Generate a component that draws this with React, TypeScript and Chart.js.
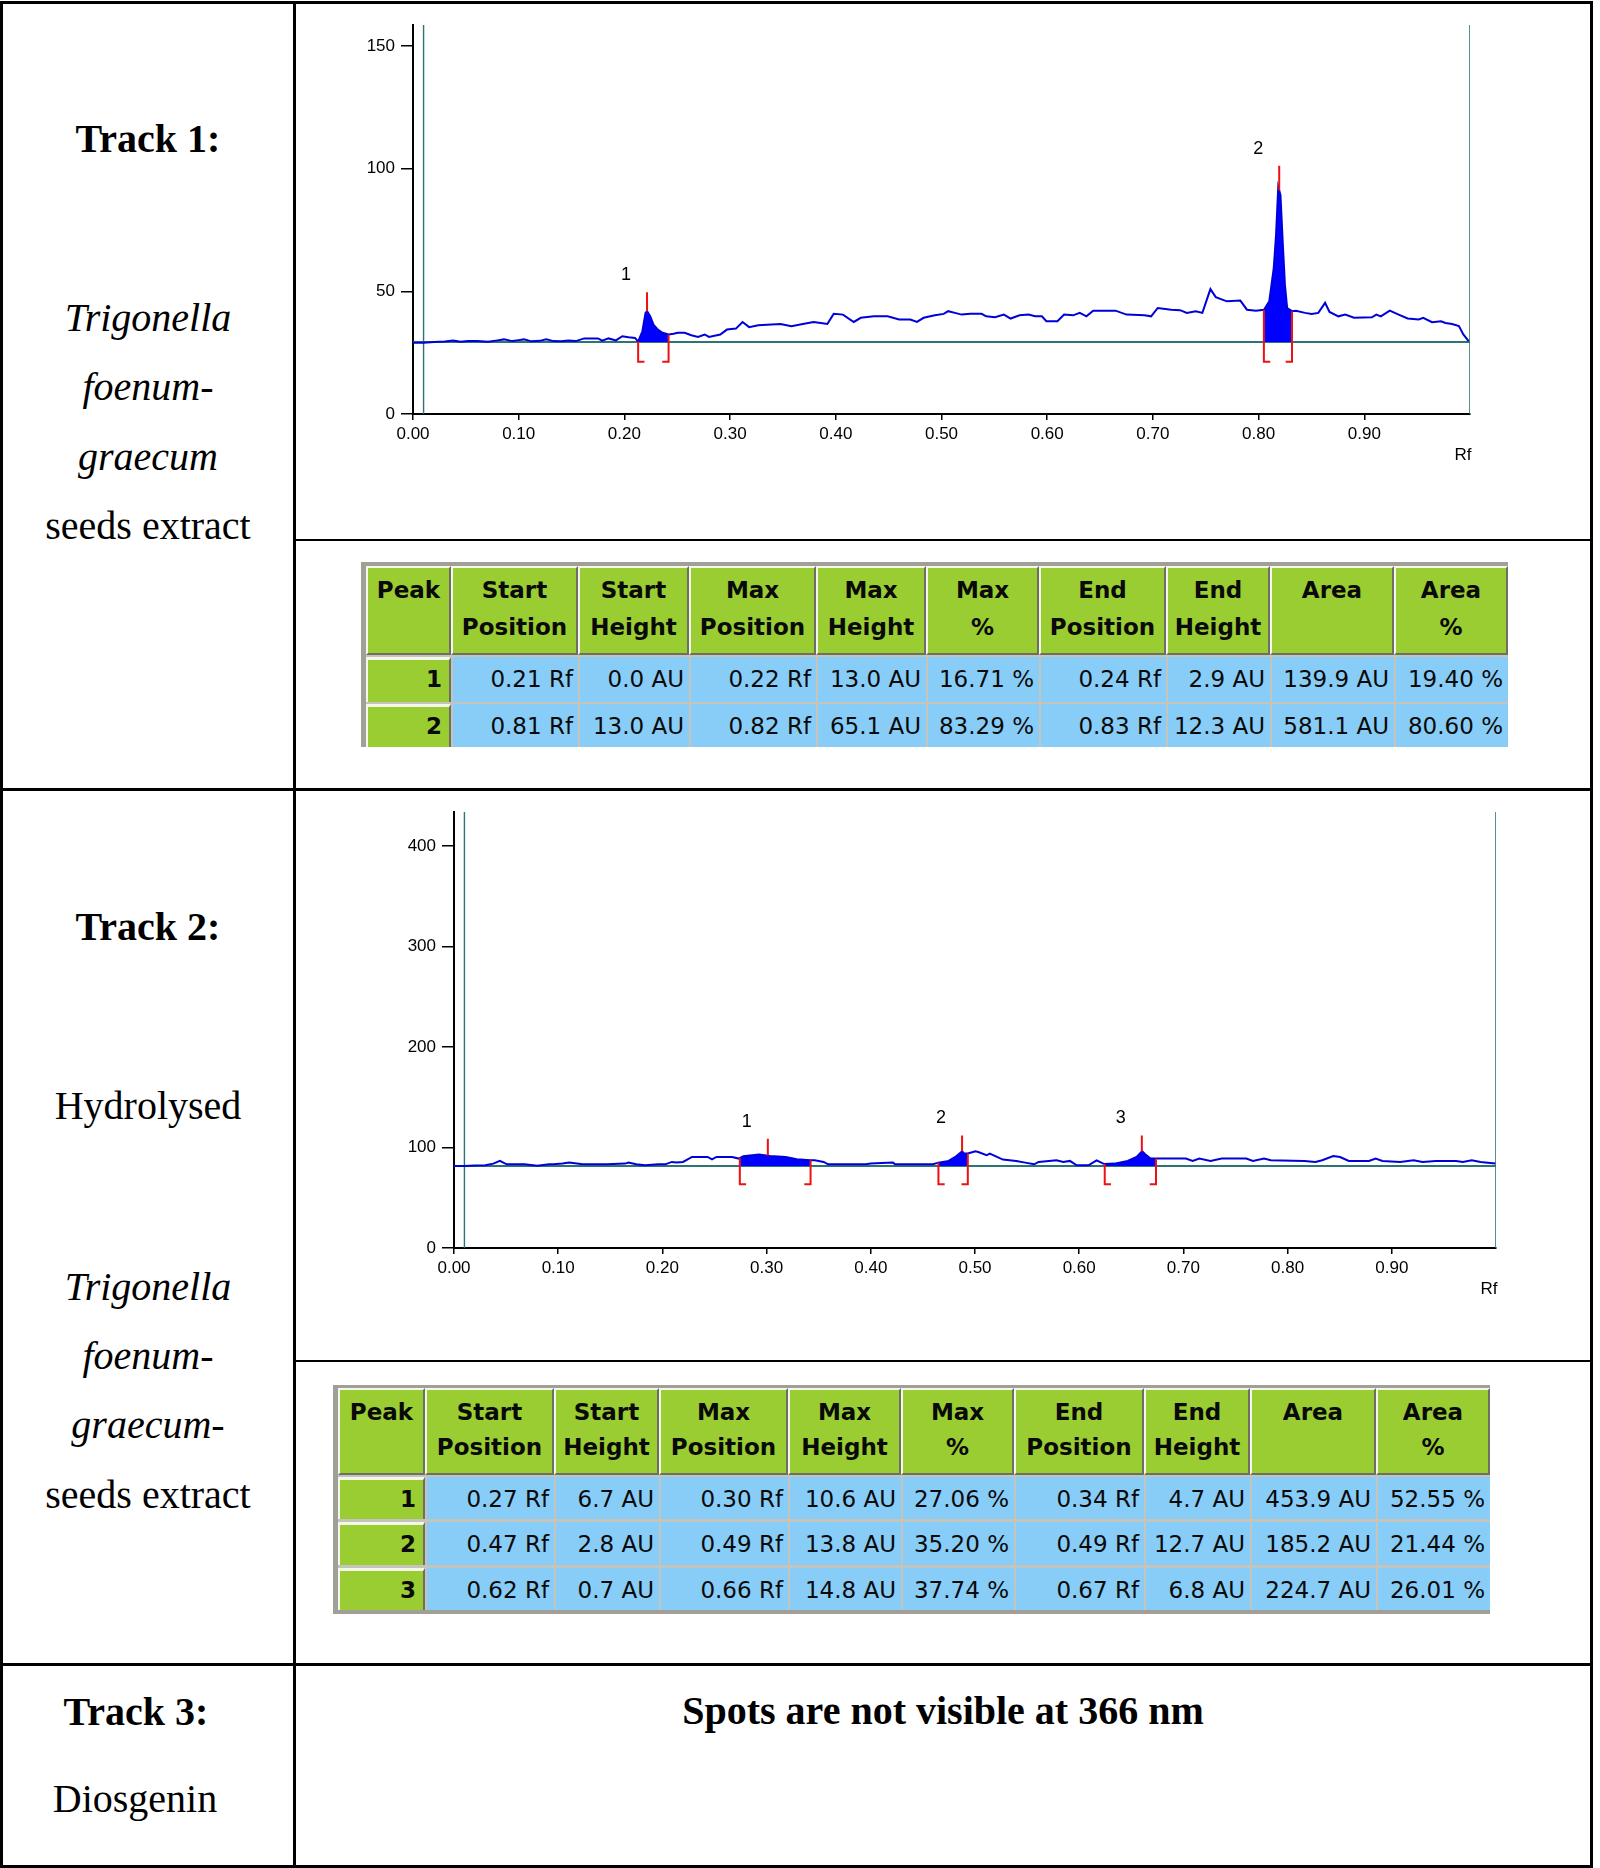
import React, { useEffect, useRef } from "react";
import { Chart, registerables } from "chart.js";

Chart.register(...registerables);

// ---------------- Track 1 densitogram (Rf vs AU) ----------------
const TRACK1_RF = [
  0.000, 0.010, 0.020, 0.030, 0.038, 0.045, 0.052, 0.061, 0.071, 0.080,
  0.086, 0.094, 0.100, 0.105, 0.112, 0.120, 0.126, 0.133, 0.140, 0.147,
  0.154, 0.162, 0.175, 0.179, 0.185, 0.192, 0.198, 0.204, 0.210, 0.213,
  0.217, 0.220, 0.2215, 0.2245, 0.2275, 0.2316, 0.236, 0.2418, 0.2465, 0.2506,
  0.257, 0.2633, 0.2696, 0.276, 0.280, 0.2907, 0.297, 0.3055, 0.3118, 0.318,
  0.3266, 0.3477, 0.358, 0.3688, 0.379, 0.3857, 0.392, 0.398, 0.4068, 0.417,
  0.4236, 0.436, 0.449, 0.4599, 0.4705, 0.4768, 0.4831, 0.4937, 0.5021, 0.5063,
  0.5127, 0.519, 0.5274, 0.538, 0.5422, 0.5506, 0.559, 0.5654, 0.5738, 0.5823,
  0.5886, 0.595, 0.5992, 0.6097, 0.616, 0.6245, 0.6308, 0.6371, 0.6435, 0.6646,
  0.6751, 0.692, 0.6983, 0.7046, 0.7173, 0.7257, 0.7321, 0.7405, 0.7468, 0.7544,
  0.7595, 0.770, 0.7827, 0.789, 0.7975, 0.8051, 0.8101, 0.8143, 0.8165, 0.8186,
  0.8207, 0.8228, 0.8249, 0.827, 0.8316, 0.8354, 0.8439, 0.8502, 0.8565, 0.8629,
  0.8671, 0.8755, 0.8819, 0.8903, 0.9072, 0.9114, 0.9156, 0.9241, 0.9325, 0.941,
  0.9515, 0.9557, 0.9641, 0.9726, 0.9768, 0.9831, 0.9895, 0.9937, 0.9987,
];
const TRACK1_AU = [
  29.0, 29.0, 29.3, 29.5, 29.9, 29.4, 29.7, 29.7, 29.4, 30.0,
  30.4, 29.7, 30.1, 30.4, 29.6, 29.8, 30.4, 29.7, 29.6, 29.9,
  29.7, 30.8, 30.8, 29.9, 30.8, 30.0, 31.7, 31.3, 31.0, 29.5,
  33.7, 41.2, 41.9, 39.8, 36.4, 34.4, 33.1, 32.4, 32.7, 33.1,
  33.1, 32.1, 31.4, 32.4, 31.4, 32.4, 34.4, 34.8, 37.5, 35.4,
  36.2, 36.7, 35.8, 36.7, 37.5, 37.1, 36.7, 40.8, 40.5, 37.5,
  39.2, 39.8, 39.8, 38.5, 38.5, 37.5, 39.2, 40.2, 40.8, 41.9,
  41.2, 40.5, 40.8, 40.8, 39.8, 39.4, 40.5, 38.9, 40.2, 40.5,
  39.8, 39.8, 37.8, 37.8, 40.5, 40.2, 41.2, 39.8, 42.1, 42.1,
  40.5, 40.2, 39.8, 43.2, 42.5, 42.3, 41.2, 41.9, 41.2, 50.9,
  47.6, 45.9, 46.2, 42.5, 42.1, 42.5, 45.9, 59.3, 72.9, 92.5,
  89.2, 70.2, 52.6, 43.2, 41.9, 42.1, 41.2, 40.8, 41.2, 45.3,
  41.6, 39.8, 40.5, 39.2, 39.4, 40.5, 39.8, 42.1, 40.5, 38.9,
  38.5, 39.2, 37.4, 37.8, 37.1, 36.7, 35.8, 32.4, 29.7,
];
const TRACK1_BASELINE = 29.3;
const TRACK1_PEAK_START = [0.213, 0.805];
const TRACK1_PEAK_MAX = [0.2214, 0.8195];
const TRACK1_PEAK_END = [0.2418, 0.8316];
const TRACK1_MARK_TOP = [49.6, 101.2];
const TRACK1_BRACKET_LOW = 21.3;
const TRACK1_Y_TICKS = [0, 50, 100, 150];
const TRACK1_Y_MAX = 158.5;

// ---------------- Track 2 densitogram ----------------
const TRACK2_RF = [
  0.000, 0.010, 0.020, 0.030, 0.0377, 0.0441, 0.0506, 0.0613, 0.0677, 0.080,
  0.0913, 0.0955, 0.1041, 0.1105, 0.1234, 0.147, 0.1641, 0.1675, 0.1748, 0.1834,
  0.1962, 0.2027, 0.2091, 0.2134, 0.2198, 0.2284, 0.2434, 0.2476, 0.2519, 0.2669,
  0.2734, 0.2776, 0.2926, 0.3033, 0.3183, 0.329, 0.3419, 0.3462, 0.3548, 0.359,
  0.3676, 0.3826, 0.3955, 0.3997, 0.4212, 0.4233, 0.4597, 0.4649, 0.4747, 0.4811,
  0.4876, 0.4897, 0.4931, 0.5004, 0.5031, 0.5111, 0.5142, 0.5268, 0.5396, 0.5482,
  0.5568, 0.5611, 0.5782, 0.5847, 0.5911, 0.5976, 0.6089, 0.6167, 0.6232, 0.6245,
  0.6339, 0.6465, 0.6551, 0.6604, 0.6633, 0.6685, 0.6737, 0.7024, 0.7089, 0.7153,
  0.726, 0.7367, 0.7603, 0.7667, 0.7774, 0.7839, 0.816, 0.8267, 0.8332, 0.8438,
  0.8503, 0.8588, 0.8781, 0.8845, 0.891, 0.9081, 0.9209, 0.9295, 0.9423, 0.9616,
  0.9682, 0.9767, 0.9852, 0.9994,
];
const TRACK2_AU = [
  81.7, 81.7, 82.0, 82.3, 84.0, 86.7, 83.3, 83.3, 83.3, 82.0,
  83.3, 83.3, 84.0, 85.0, 83.3, 83.3, 84.0, 85.0, 83.3, 82.3,
  83.3, 83.3, 85.7, 85.0, 85.7, 90.6, 90.6, 88.3, 90.6, 90.6,
  89.0, 91.3, 93.0, 91.6, 90.6, 88.3, 87.3, 87.3, 85.7, 83.3,
  83.3, 83.3, 83.3, 84.0, 85.0, 83.3, 83.3, 85.0, 86.7, 90.6,
  96.3, 94.0, 94.0, 96.3, 95.6, 92.3, 94.0, 88.0, 86.7, 85.0,
  83.3, 85.7, 87.3, 85.7, 86.7, 82.3, 82.3, 87.3, 84.0, 83.5,
  84.0, 86.7, 90.6, 96.3, 93.3, 89.0, 89.0, 89.0, 86.7, 89.0,
  86.7, 89.0, 89.0, 86.7, 89.0, 87.3, 86.7, 85.7, 87.3, 91.6,
  90.6, 86.7, 86.7, 89.0, 86.7, 85.7, 87.3, 85.7, 86.7, 86.7,
  85.7, 87.3, 85.7, 84.0,
];
const TRACK2_BASELINE = 81.7;
const TRACK2_PEAK_START = [0.2743, 0.4649, 0.6245];
const TRACK2_PEAK_MAX = [0.3012, 0.4876, 0.6601];
const TRACK2_PEAK_END = [0.3422, 0.4931, 0.6737];
const TRACK2_MARK_TOP = [108.8, 112, 112];
const TRACK2_BRACKET_LOW = 63.4;
const TRACK2_Y_TICKS = [0, 100, 200, 300, 400];
const TRACK2_Y_MAX = 434;

const RF_TICKS = [0, 0.1, 0.2, 0.3, 0.4, 0.5, 0.6, 0.7, 0.8, 0.9];
const RF_MIN = 0;
const RF_MAX = 1;
const START_LINE_RF = 0.01;

// ---------------- Peak tables ----------------
const TABLE1_PEAK = [1, 2];
const TABLE1_START_POS = [0.21, 0.81];
const TABLE1_START_HEIGHT = [0.0, 13.0];
const TABLE1_MAX_POS = [0.22, 0.82];
const TABLE1_MAX_HEIGHT = [13.0, 65.1];
const TABLE1_MAX_PCT = [16.71, 83.29];
const TABLE1_END_POS = [0.24, 0.83];
const TABLE1_END_HEIGHT = [2.9, 12.3];
const TABLE1_AREA = [139.9, 581.1];
const TABLE1_AREA_PCT = [19.4, 80.6];

const TABLE2_PEAK = [1, 2, 3];
const TABLE2_START_POS = [0.27, 0.47, 0.62];
const TABLE2_START_HEIGHT = [6.7, 2.8, 0.7];
const TABLE2_MAX_POS = [0.3, 0.49, 0.66];
const TABLE2_MAX_HEIGHT = [10.6, 13.8, 14.8];
const TABLE2_MAX_PCT = [27.06, 35.2, 37.74];
const TABLE2_END_POS = [0.34, 0.49, 0.67];
const TABLE2_END_HEIGHT = [4.7, 12.7, 6.8];
const TABLE2_AREA = [453.9, 185.2, 224.7];
const TABLE2_AREA_PCT = [52.55, 21.44, 26.01];

// ---------------- styles ----------------
const TEAL = "#2f7474";
const CURVE = "#0000d8";
const FILL = "#0000ff";
const RED = "#ee1111";
const FOOT = 0.006;
const TICK_FONT = { family: '"Liberation Sans", Arial, sans-serif', size: 17 };

const GREEN = "#9acd32";
const BLUE = "#88cdf8";
const HI = "#f4f8ea";
const SH = "#6e6e62";
const GAP = "#c4c4bc";
const FRAME = "#a0a098";
const INK = "#0a0a0a";
const TABLE_FONT = '"DejaVu Sans", Verdana, sans-serif';
const SERIF = '"Liberation Serif", "Times New Roman", serif';

const fmtRf = (v: number) => v.toFixed(2) + " Rf";
const fmtAU = (v: number) => v.toFixed(1) + " AU";
const fmtPct = (v: number) => v.toFixed(2) + " %";

type Box = { left: number; top: number; width: number; height: number };
type Area = { left: number; right: number; top: number; bottom: number };

type DensProps = {
  box: Box;
  area: Area;
  rf: number[];
  au: number[];
  baseline: number;
  starts: number[];
  maxes: number[];
  ends: number[];
  markTops: number[];
  bracketLow: number;
  yTicks: number[];
  yMax: number;
};

function Densitogram(p: DensProps) {
  const ref = useRef<HTMLCanvasElement | null>(null);
  useEffect(() => {
    const canvas = ref.current;
    if (!canvas) return;
    const trace = p.rf.map((x, i) => ({ x, y: p.au[i] }));
    const at = (x: number) => {
      for (let i = 1; i < trace.length; i++) {
        if (trace[i].x >= x) {
          const a = trace[i - 1];
          const b = trace[i];
          const t = (x - a.x) / (b.x - a.x || 1);
          return a.y + t * (b.y - a.y);
        }
      }
      return trace[trace.length - 1].y;
    };
    const line = (data: any[], color: string, width: number, order: number, extra: any = {}) => ({
      data,
      borderColor: color,
      borderWidth: width,
      pointRadius: 0,
      pointHoverRadius: 0,
      fill: false,
      tension: 0,
      order,
      ...extra,
    });
    const ds: any[] = [];
    ds.push(line([{ x: RF_MIN, y: p.baseline }, { x: RF_MAX, y: p.baseline }], TEAL, 2, 20));
    ds.push(line([{ x: START_LINE_RF, y: 0 }, { x: START_LINE_RF, y: p.yMax }], TEAL, 1.4, 20));
    ds.push(line([{ x: RF_MAX, y: 0 }, { x: RF_MAX, y: p.yMax }], TEAL, 1.6, 20));
    p.starts.forEach((s, i) => {
      const e = p.ends[i];
      const seg = [{ x: s, y: at(s) }, ...trace.filter((q) => q.x > s && q.x < e), { x: e, y: at(e) }];
      ds.push(line(seg, "rgba(0,0,0,0)", 1, 15, { fill: { value: p.baseline }, backgroundColor: FILL }));
    });
    ds.push(line(trace, CURVE, 2, 10));
    p.maxes.forEach((m, i) => ds.push(line([{ x: m, y: p.markTops[i] }, { x: m, y: at(m) }], RED, 2, 1)));
    p.starts.forEach((s) =>
      ds.push(line([{ x: s + FOOT, y: p.bracketLow }, { x: s, y: p.bracketLow }, { x: s, y: at(s) }], RED, 2, 1))
    );
    p.ends.forEach((e) =>
      ds.push(line([{ x: e - FOOT, y: p.bracketLow }, { x: e, y: p.bracketLow }, { x: e, y: at(e) }], RED, 2, 1))
    );

    const labels = {
      id: "peakLabels",
      afterDraw(chart: any) {
        const { ctx, chartArea, scales } = chart;
        ctx.save();
        ctx.fillStyle = "#000";
        ctx.textAlign = "center";
        ctx.textBaseline = "middle";
        ctx.font = '18px "Liberation Sans", Arial, sans-serif';
        p.maxes.forEach((m, i) => {
          ctx.fillText(String(i + 1), scales.x.getPixelForValue(m) - 21, scales.y.getPixelForValue(p.markTops[i]) - 17);
        });
        ctx.font = '17px "Liberation Sans", Arial, sans-serif';
        ctx.fillText("Rf", chartArea.right - 7, chartArea.bottom + 41);
        ctx.restore();
      },
    };

    const chart = new Chart(canvas, {
      type: "line",
      data: { datasets: ds },
      plugins: [labels],
      options: {
        responsive: false,
        maintainAspectRatio: false,
        animation: false,
        events: [],
        layout: {
          padding: {
            left: 0,
            top: p.area.top - p.box.top,
            right: p.box.left + p.box.width - p.area.right,
            bottom: 0,
          },
        },
        plugins: { legend: { display: false }, tooltip: { enabled: false } },
        scales: {
          x: {
            type: "linear",
            min: RF_MIN,
            max: RF_MAX,
            afterFit: (s: any) => {
              s.height = p.box.top + p.box.height - p.area.bottom;
            },
            afterBuildTicks: (s: any) => {
              s.ticks = RF_TICKS.map((v) => ({ value: v }));
            },
            ticks: {
              autoSkip: false,
              maxRotation: 0,
              color: "#000",
              font: TICK_FONT,
              padding: 4,
              callback: (v: any) => Number(v).toFixed(2),
            },
            grid: { display: true, drawOnChartArea: false, drawTicks: true, tickLength: 6, color: "#000", lineWidth: 1.5 },
            border: { display: true, color: "#000", width: 2 },
          },
          y: {
            type: "linear",
            min: 0,
            max: p.yMax,
            afterFit: (s: any) => {
              s.width = p.area.left - p.box.left;
            },
            afterBuildTicks: (s: any) => {
              s.ticks = p.yTicks.map((v) => ({ value: v }));
            },
            ticks: {
              autoSkip: false,
              color: "#000",
              font: TICK_FONT,
              padding: 6,
              callback: (v: any) => String(v),
            },
            grid: { display: true, drawOnChartArea: false, drawTicks: true, tickLength: 12, color: "#000", lineWidth: 1.5 },
            border: { display: true, color: "#000", width: 2 },
          },
        },
      } as any,
    });
    return () => chart.destroy();
  }, []);
  return (
    <canvas
      ref={ref}
      width={p.box.width}
      height={p.box.height}
      style={{ position: "absolute", left: p.box.left, top: p.box.top, width: p.box.width, height: p.box.height }}
    />
  );
}

type Col = { head: [string, string]; cells: string[] };
type TableProps = {
  frame: [number, number, number, number];
  edges: number[];
  head: [number, number];
  headPad: number;
  headLine: number;
  rows: [number, number][];
  dataBase: number;
  peaks: number[];
  columns: Col[];
  bottomFrame: boolean;
};

function PeakTable(t: TableProps) {
  const [fx0, fy0, fx1, fy1] = t.frame;
  const els: any[] = [];
  els.push(
    <div key="gap" style={{ position: "absolute", left: fx0, top: fy0, width: fx1 - fx0, height: fy1 - fy0, background: GAP }} />
  );
  els.push(
    <div key="fl" style={{ position: "absolute", left: fx0, top: fy0, width: t.edges[0] - fx0, height: fy1 - fy0, background: FRAME }} />
  );
  els.push(
    <div key="ft" style={{ position: "absolute", left: fx0, top: fy0, width: fx1 - fx0, height: t.head[0] - fy0, background: FRAME }} />
  );
  if (t.bottomFrame) {
    const lastRow = t.rows[t.rows.length - 1];
    els.push(
      <div key="fb" style={{ position: "absolute", left: fx0, top: lastRow[1], width: fx1 - fx0, height: fy1 - lastRow[1], background: FRAME }} />
    );
  }
  const all: Col[] = [{ head: ["Peak", ""], cells: t.peaks.map(String) }, ...t.columns];
  all.forEach((c, i) => {
    const l = t.edges[i];
    const w = t.edges[i + 1] - t.edges[i];
    els.push(
      <div
        key={"h" + i}
        style={{
          position: "absolute",
          left: l,
          top: t.head[0],
          width: w,
          height: t.head[1] - t.head[0],
          boxSizing: "border-box",
          background: GREEN,
          borderTop: `2px solid ${HI}`,
          borderLeft: `2px solid ${HI}`,
          borderRight: `2px solid ${SH}`,
          borderBottom: `2px solid ${SH}`,
        }}
      >
        <div
          style={{
            position: "absolute",
            left: 0,
            right: 0,
            top: t.headPad,
            lineHeight: t.headLine + "px",
            fontFamily: TABLE_FONT,
            fontWeight: "bold",
            fontSize: 23,
            color: INK,
            textAlign: "center",
            whiteSpace: "nowrap",
          }}
        >
          {c.head[0]}
          <br />
          {c.head[1]}
        </div>
      </div>
    );
    t.rows.forEach((r, j) => {
      const h = r[1] - r[0];
      if (i === 0) {
        els.push(
          <div
            key={"c" + i + "_" + j}
            style={{
              position: "absolute",
              left: l,
              top: r[0],
              width: w,
              height: h,
              boxSizing: "border-box",
              background: GREEN,
              borderTop: `3px solid ${HI}`,
              borderLeft: `2px solid ${HI}`,
              borderRight: `2px solid ${SH}`,
            }}
          >
            <div
              style={{
                position: "absolute",
                right: 7,
                top: t.dataBase - 23 - 3,
                lineHeight: "30px",
                fontFamily: TABLE_FONT,
                fontWeight: "bold",
                fontSize: 23,
                color: INK,
                whiteSpace: "nowrap",
              }}
            >
              {c.cells[j]}
            </div>
          </div>
        );
      } else {
        els.push(
          <div
            key={"c" + i + "_" + j}
            style={{ position: "absolute", left: l + 2, top: r[0], width: w - 2, height: h, background: BLUE }}
          >
            <div
              style={{
                position: "absolute",
                right: 5,
                top: t.dataBase - 23,
                lineHeight: "30px",
                fontFamily: TABLE_FONT,
                fontSize: 23,
                color: INK,
                whiteSpace: "nowrap",
              }}
            >
              {c.cells[j]}
            </div>
          </div>
        );
      }
    });
  });
  return <>{els}</>;
}

function buildColumns(
  sp: number[], sh: number[], mp: number[], mh: number[], mpct: number[],
  ep: number[], eh: number[], ar: number[], apct: number[]
): Col[] {
  return [
    { head: ["Start", "Position"], cells: sp.map(fmtRf) },
    { head: ["Start", "Height"], cells: sh.map(fmtAU) },
    { head: ["Max", "Position"], cells: mp.map(fmtRf) },
    { head: ["Max", "Height"], cells: mh.map(fmtAU) },
    { head: ["Max", "%"], cells: mpct.map(fmtPct) },
    { head: ["End", "Position"], cells: ep.map(fmtRf) },
    { head: ["End", "Height"], cells: eh.map(fmtAU) },
    { head: ["Area", ""], cells: ar.map(fmtAU) },
    { head: ["Area", "%"], cells: apct.map(fmtPct) },
  ];
}

function Txt(props: { text: string; baseline: number; cx: number; bold?: boolean; italic?: boolean }) {
  return (
    <div
      style={{
        position: "absolute",
        left: props.cx - 300,
        width: 600,
        top: props.baseline - 33.5,
        fontFamily: SERIF,
        fontSize: 40,
        lineHeight: "40px",
        textAlign: "center",
        fontWeight: props.bold ? "bold" : "normal",
        fontStyle: props.italic ? "italic" : "normal",
        color: "#000",
        whiteSpace: "nowrap",
      }}
    >
      {props.text}
    </div>
  );
}

function Rule(props: { l: number; t: number; w: number; h: number }) {
  return <div style={{ position: "absolute", left: props.l, top: props.t, width: props.w, height: props.h, background: "#000" }} />;
}

export default function App() {
  const cols1 = buildColumns(
    TABLE1_START_POS, TABLE1_START_HEIGHT, TABLE1_MAX_POS, TABLE1_MAX_HEIGHT, TABLE1_MAX_PCT,
    TABLE1_END_POS, TABLE1_END_HEIGHT, TABLE1_AREA, TABLE1_AREA_PCT
  );
  const cols2 = buildColumns(
    TABLE2_START_POS, TABLE2_START_HEIGHT, TABLE2_MAX_POS, TABLE2_MAX_HEIGHT, TABLE2_MAX_PCT,
    TABLE2_END_POS, TABLE2_END_HEIGHT, TABLE2_AREA, TABLE2_AREA_PCT
  );
  return (
    <div style={{ position: "absolute", left: 0, top: 0, width: 1600, height: 1868, background: "#fff", overflow: "hidden" }}>
      {/* left column labels */}
      <Txt text="Track 1:" baseline={152.5} cx={148} bold />
      <Txt text="Trigonella" baseline={331} cx={148} italic />
      <Txt text="foenum-" baseline={400.5} cx={148} italic />
      <Txt text="graecum" baseline={470} cx={148} italic />
      <Txt text="seeds extract" baseline={539.7} cx={148} />

      <Txt text="Track 2:" baseline={940} cx={148} bold />
      <Txt text="Hydrolysed" baseline={1119} cx={148} />
      <Txt text="Trigonella" baseline={1300} cx={148} italic />
      <Txt text="foenum-" baseline={1369} cx={148} italic />
      <Txt text="graecum-" baseline={1438.5} cx={148} italic />
      <Txt text="seeds extract" baseline={1508} cx={148} />

      <Txt text="Track 3:" baseline={1725} cx={136} bold />
      <Txt text="Diosgenin" baseline={1812} cx={135} />
      <Txt text="Spots are not visible at 366 nm" baseline={1724} cx={943} bold />

      {/* charts */}
      <Densitogram
        box={{ left: 296, top: 6, width: 1292, height: 532 }}
        area={{ left: 413, right: 1470, top: 25, bottom: 414 }}
        rf={TRACK1_RF}
        au={TRACK1_AU}
        baseline={TRACK1_BASELINE}
        starts={TRACK1_PEAK_START}
        maxes={TRACK1_PEAK_MAX}
        ends={TRACK1_PEAK_END}
        markTops={TRACK1_MARK_TOP}
        bracketLow={TRACK1_BRACKET_LOW}
        yTicks={TRACK1_Y_TICKS}
        yMax={TRACK1_Y_MAX}
      />
      <Densitogram
        box={{ left: 296, top: 793, width: 1292, height: 566 }}
        area={{ left: 454, right: 1496, top: 812, bottom: 1248 }}
        rf={TRACK2_RF}
        au={TRACK2_AU}
        baseline={TRACK2_BASELINE}
        starts={TRACK2_PEAK_START}
        maxes={TRACK2_PEAK_MAX}
        ends={TRACK2_PEAK_END}
        markTops={TRACK2_MARK_TOP}
        bracketLow={TRACK2_BRACKET_LOW}
        yTicks={TRACK2_Y_TICKS}
        yMax={TRACK2_Y_MAX}
      />

      {/* tables */}
      <PeakTable
        frame={[361, 562, 1508, 747]}
        edges={[366, 451, 578, 689, 816, 926, 1039, 1166, 1270, 1394, 1508]}
        head={[566, 655]}
        headPad={4}
        headLine={37}
        rows={[[657, 702], [704, 747]]}
        dataBase={29.5}
        peaks={TABLE1_PEAK}
        columns={cols1}
        bottomFrame={false}
      />
      <PeakTable
        frame={[333, 1385, 1490, 1614]}
        edges={[338, 425, 554, 659, 788, 901, 1014, 1144, 1250, 1376, 1490]}
        head={[1388, 1475]}
        headPad={5}
        headLine={35}
        rows={[[1477, 1519], [1522, 1565], [1568, 1610]]}
        dataBase={30}
        peaks={TABLE2_PEAK}
        columns={cols2}
        bottomFrame={true}
      />

      {/* outer table rules */}
      <Rule l={0} t={1} w={1593} h={3} />
      <Rule l={0} t={1} w={3} h={1867} />
      <Rule l={1590} t={1} w={3} h={1867} />
      <Rule l={0} t={1865} w={1593} h={3} />
      <Rule l={293} t={1} w={3} h={1867} />
      <Rule l={0} t={788} w={1593} h={3} />
      <Rule l={0} t={1663} w={1593} h={3} />
      <Rule l={293} t={539} w={1300} h={2} />
      <Rule l={293} t={1360} w={1300} h={2} />
    </div>
  );
}
